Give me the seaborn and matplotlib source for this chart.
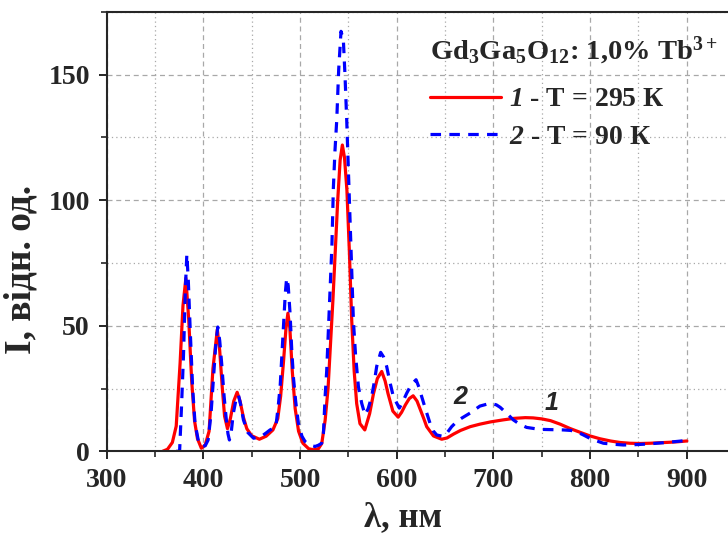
import numpy as np
import pandas as pd
import matplotlib

matplotlib.use("Agg")
import matplotlib.pyplot as plt
from matplotlib.ticker import MultipleLocator
import seaborn as sns

# spectrum at 295 K (curve 1)
wl_295 = [358, 363, 368, 372, 376, 379, 382, 385, 388, 391, 394, 398, 402, 406,
          410, 414.5, 417, 419.5, 422, 425, 428, 431.5, 435, 438, 441.5, 445,
          450, 458, 465, 472, 477, 480, 483, 485.5, 487.5, 489.5, 492, 495,
          498.5, 503, 509, 514, 519, 522.5, 526, 529, 531, 534, 536.5, 539,
          541.5, 543.8, 546, 548.5, 551, 553.5, 556, 558.6, 562, 567, 572, 576,
          580, 584.5, 588, 591, 596, 601.5, 605, 609, 613, 617, 621, 624, 628,
          631, 638, 646.5, 652, 659, 666, 676, 686, 697, 710, 721, 733, 741,
          750, 759, 769, 779, 790, 800, 810, 821, 831, 841, 852, 862, 872, 883,
          891, 900]
int_295 = [0, 0.8, 3.5, 10, 35, 58, 69, 52, 28, 12, 5, 1.2, 2.5, 8,
           33, 48.5, 40, 26, 14, 9, 13, 20, 23.5, 20, 13.5, 9,
           6.2, 4.8, 6, 8.5, 13, 22, 36, 49, 55, 49, 32, 17,
           8, 3.2, 1, 0.6, 1, 3.1, 12.4, 25, 39, 60, 80, 100,
           116, 122, 117, 104, 80, 52, 32, 19, 11, 8.5, 15, 23,
           29, 31.8, 28, 23, 16, 13.6, 15.5, 18.5, 21, 22.1, 20, 17, 13,
           9.8, 6.1, 4.8, 5.3, 6.9, 8.3, 9.8, 10.8, 11.7, 12.5, 13.1, 13.4, 13.3,
           12.9, 12.2, 10.8, 9.1, 7.5, 6.1, 5, 4.1, 3.5, 3.2, 3.1, 3.2, 3.4, 3.6,
           3.8, 4.1]

# spectrum at 90 K (curve 2)
wl_90 = [372, 375.5, 377.5, 379.5, 381.5, 383, 384.5, 386.5, 389, 391.5, 395,
         398.5, 402, 405, 408, 410.5, 413, 415, 417, 419, 421.5, 423.5, 425.5,
         427, 429, 431, 433.5, 436.3, 439, 441.5, 446, 452, 460, 465, 469, 475,
         477.5, 479.5, 481.5, 483, 484.8, 486.2, 487.8, 489.7, 491.5, 493.3,
         495.5, 498.3, 502, 505.2, 510, 515.5, 519, 522.4, 524.2, 526, 527.6,
         529.3, 531.1, 533, 534.5, 536.2, 538, 540, 542.4, 544.8, 546.5, 548.3,
         550, 551.7, 553.5, 555.2, 557.5, 560.4, 563.8, 567.2, 570.5, 574.1,
         577, 579.3, 583.4, 586.5, 589.6, 593, 596.5, 602.7, 606, 610.3, 615,
         620, 623, 625.8, 630, 634.4, 638, 641.3, 648.2, 652, 656.8, 662, 667.2,
         675.8, 686, 696.5, 703, 707, 714, 720.6, 727, 734.4, 743, 751.6, 762,
         772.3, 780, 786, 793, 800, 807, 813.7, 824, 834.3, 845, 855, 866,
         875.7, 886, 896.4, 900]
int_90 = [0, 0, 18, 38, 65, 78.5, 68, 48, 25, 11, 4,
          1.9, 2.2, 4.5, 15, 29, 43, 49.5, 44, 35, 22, 13.8, 7,
          4.5, 8, 15, 20, 22.5, 18, 12.5, 7.5, 5.2, 5.9, 7.3, 8.5, 9.6,
          18, 26, 40, 50, 63, 69, 66, 55, 40, 29,
          20, 11.2, 6, 3.9, 2.5, 1.9, 2.4, 3.2, 7, 22, 32,
          48, 66, 82, 105, 120, 132, 152, 167.3, 164, 150, 132,
          112, 92, 72, 52, 38, 25.7, 19.1, 14.5, 17, 21.8,
          28, 33.8, 39.4, 37.5, 33.8, 27.5, 21.8, 17.2, 19.5, 23.1, 26.5,
          28.5, 25.5, 21.8, 16.5, 11.2, 8, 6.5, 5.9, 7.3, 9.8, 11.8, 13.2,
          15.2, 18, 19.1, 18.5, 17.5, 15, 12.5, 10.8, 9.5, 9, 8.7, 8.6,
          8.5, 8.3, 7.8, 6.5, 5.1, 4.1, 3.2, 2.8, 2.5, 2.6, 2.8, 3.1,
          3.4, 3.8, 4.2, 4.3]

series_names = ["295 K", "90 K"]
# \mathsf is mapped to the bold-italic serif below (\mathit keeps digits upright)
legend_labels = ["$\\mathsf{1}$ - T = 295 К", "$\\mathsf{2}$ - T = 90 К"]
legend_title = "Gd$_3$Ga$_5$O$_{12}$: 1,0% Tb$^{3+}$"


def build_frame() -> pd.DataFrame:
    a = pd.DataFrame({"wl": wl_295, "I": int_295, "series": series_names[0]})
    b = pd.DataFrame({"wl": wl_90, "I": int_90, "series": series_names[1]})
    return pd.concat([a, b], ignore_index=True)


def main():
    sns.set_style("ticks")
    plt.rcParams["font.family"] = ["Liberation Serif", "DejaVu Serif"]
    plt.rcParams["font.weight"] = "bold"
    plt.rcParams["mathtext.fontset"] = "custom"
    plt.rcParams["mathtext.rm"] = "Liberation Serif:bold"
    plt.rcParams["mathtext.bf"] = "Liberation Serif:bold"
    plt.rcParams["mathtext.it"] = "Liberation Serif:italic:bold"
    plt.rcParams["mathtext.sf"] = "Liberation Serif:italic:bold"

    df = build_frame()

    fig = plt.figure(figsize=(7.28, 5.35), dpi=100)
    # axes run past the right edge of the figure, as in the original crop
    ax = fig.add_axes([0.1464, 0.1565, 0.8635, 0.8211])

    sns.lineplot(
        data=df, x="wl", y="I", hue="series", style="series",
        hue_order=series_names, style_order=series_names,
        palette={"295 K": "#ff0000", "90 K": "#0000ff"},
        dashes={"295 K": "", "90 K": (3.3, 2.6)},
        estimator=None, sort=False, linewidth=2.3, legend=False, ax=ax,
    )

    ax.set_xlim(300, 950)
    ax.set_ylim(0, 175)
    ax.xaxis.set_major_locator(MultipleLocator(100))
    ax.xaxis.set_minor_locator(MultipleLocator(50))
    ax.yaxis.set_major_locator(MultipleLocator(50))
    ax.yaxis.set_minor_locator(MultipleLocator(25))

    ax.set_axisbelow(True)
    ax.grid(which="major", ls=(0, (4, 3)), color="#a8a8a8", lw=0.9)
    ax.grid(which="minor", ls=(0, (1, 2.5)), color="#a8a8a8", lw=0.9)

    ax.tick_params(which="major", direction="out", length=6, width=1.4,
                   labelsize=20, pad=6)
    ax.tick_params(which="minor", direction="out", length=4, width=1.2)
    for lab in ax.get_xticklabels() + ax.get_yticklabels():
        lab.set_fontweight("bold")

    for side in ["left", "bottom", "top"]:
        ax.spines[side].set_linewidth(1.5)
        ax.spines[side].set_visible(True)
    ax.spines["right"].set_visible(False)

    ax.set_xlabel("λ, нм", fontsize=25, fontweight="bold")
    ax.set_ylabel("I, відн. од.", fontsize=27, fontweight="bold")
    ax.xaxis.set_label_coords(0.471, -0.113)
    ax.yaxis.set_label_coords(-0.109, 0.413)

    handles = ax.get_lines()[:2]
    leg = ax.legend(
        handles, legend_labels, title=legend_title,
        loc="upper left", bbox_to_anchor=(0.514, 0.947),
        frameon=False, fontsize=20, title_fontsize=20.5,
        handlelength=2.55, handletextpad=0.3, labelspacing=0.44,
        borderpad=0, borderaxespad=0,
    )
    leg._legend_box.align = "left"
    leg._legend_box.sep = 14
    leg.get_title().set_fontweight("bold")

    # curve numbers
    ax.text(665.5, 21.8, "2", family="Liberation Sans", fontsize=18,
            fontweight="bold", style="italic", ha="center", va="center")
    ax.text(760, 19.1, "1", family="Liberation Sans", fontsize=18,
            fontweight="bold", style="italic", ha="center", va="center")

    fig.savefig("out.png", dpi=100)


if __name__ == "__main__":
    main()
